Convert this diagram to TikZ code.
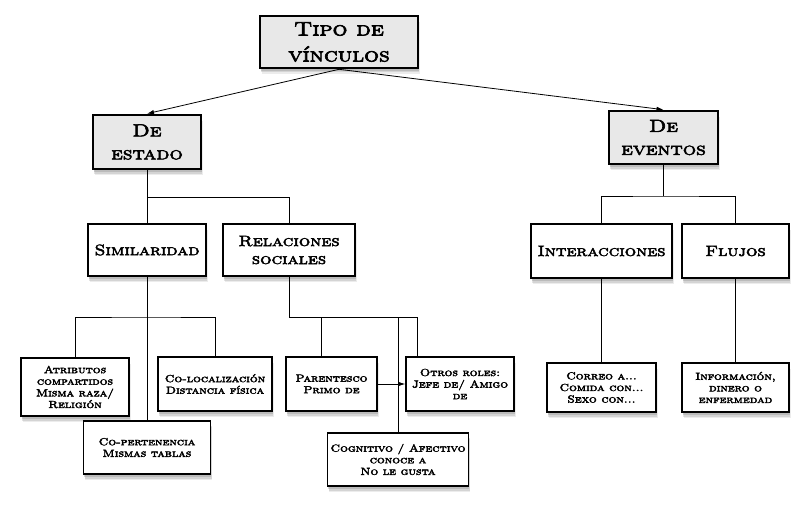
\documentclass[tikz,border=0pt]{standalone}
\usepackage{fontspec}
\newfontfamily\cpfont{lmromancaps10-regular.otf}[FakeStretch=1.2]
\newcommand\heavyon[1]{\special{pdf:literal direct 2 Tr #1 w}}
\newcommand\heavyoff{\special{pdf:literal direct 0 Tr}}
\usetikzlibrary{shadows,arrows.meta}
\definecolor{gfill}{HTML}{E8E8E8}
\begin{document}
\begin{tikzpicture}[x=1pt,y=-1pt,
  shd/.style={
    drop shadow={shadow xshift=1.5pt,shadow yshift=-6pt,opacity=.15},
    drop shadow={shadow xshift=1pt,shadow yshift=-4.5pt,opacity=.22},
    drop shadow={shadow xshift=.5pt,shadow yshift=-3pt,opacity=.3}},
  box/.style={shd,draw,line width=1.3pt,fill=white,align=center,inner sep=0pt,
    minimum width=#1, execute at end node=\heavyoff},
  gbox/.style={box=#1,fill=gfill,line width=2.6pt},
  fa/.style={font=\fontsize{19.5}{26}\selectfont\cpfont\heavyon{0.7}},
  fb/.style={font=\fontsize{17.5}{23}\selectfont\cpfont\heavyon{0.6}},
  fc/.style={font=\fontsize{15}{18}\selectfont\cpfont\heavyon{0.5}},
  fd/.style={font=\fontsize{10.2}{11.6}\selectfont\cpfont\heavyon{0.4}},
  conn/.style={line width=0.8pt},
  arr/.style={conn,-{Latex[length=7pt,width=4.5pt]}}]
\useasboundingbox (0,0) rectangle (809,511);

% level 1-2
\node[gbox=158pt,minimum height=52pt,fa] (tipo) at (339,42) {Tipo de\\vínculos};
\node[gbox=108pt,minimum height=54pt,fb] (estado) at (147,142) {De\\estado};
\node[gbox=109pt,minimum height=53pt,fb] (eventos) at (663.5,137.5) {De\\eventos};

% level 3
\node[box=118pt,minimum height=52pt,fc] (simil) at (147,250) {Similaridad};
\node[box=132pt,minimum height=52pt,fc] (rel) at (289,250) {Relaciones\\sociales};
\node[box=141pt,minimum height=54pt,fc] (inter) at (601.5,251) {Interacciones};
\node[box=107pt,minimum height=54pt,fc] (flujos) at (735.5,251) {Flujos};

% level 4
\node[box=108pt,minimum height=58pt,fd] (atrib) at (75,387) {Atributos\\compartidos\\Misma raza/\\Religión};
\node[box=114pt,minimum height=54pt,fd] (coloc) at (215,384) {Co-localización\\Distancia física};
\node[box=127pt,minimum height=53pt,fd] (copert) at (147,447.5) {Co-pertenencia\\Mismas tablas};
\node[box=91pt,minimum height=54pt,fd] (parent) at (331.5,384) {Parentesco\\Primo de};
\node[box=108pt,minimum height=54pt,fd] (otros) at (460,384) {Otros roles:\\Jefe de/ Amigo\\de};
\node[box=141pt,minimum height=53pt,fd] (cogn) at (398,459.5) {Cognitivo / Afectivo\\conoce a\\No le gusta};
\node[box=109pt,minimum height=49pt,fd] (correo) at (601.5,387.5) {Correo a...\\Comida con...\\Sexo con...};
\node[box=107pt,minimum height=49pt,fd] (info) at (735.5,387.5) {Información,\\dinero o\\enfermedad};

% connectors
\draw[arr] (tipo.south) -- (estado.north);
\draw[arr] (tipo.south) -- (eventos.north);

\coordinate (ja) at (147,197);
\draw[conn] (estado.south) -- (ja);
\draw[conn] (simil.north) |- (ja) -| (rel.north);

\coordinate (jb) at (663.5,196);
\draw[conn] (eventos.south) -- (jb);
\draw[conn] (inter.north) |- (jb) -| (flujos.north);

\coordinate (sbus) at (147,317);
\draw[conn] (simil.south) -- (copert.north);
\draw[conn] (atrib.north) |- (sbus) -| (coloc.north);

\coordinate (rbus) at (289,317);
\coordinate (r1) at (321,317);
\coordinate (r3) at (417,317);
\draw[conn] (rel.south) -- (rbus) -- (r3) -- (r3 |- otros.north);
\draw[conn] (r1) -- (r1 |- parent.north);
\draw[conn] (cogn.north) -- (cogn.north |- rbus);
\draw[arr] (parent.east) -- (otros.west);

\draw[conn] (inter.south) -- (correo.north);
\draw[conn] (flujos.south) -- (info.north);
\end{tikzpicture}
\end{document}
